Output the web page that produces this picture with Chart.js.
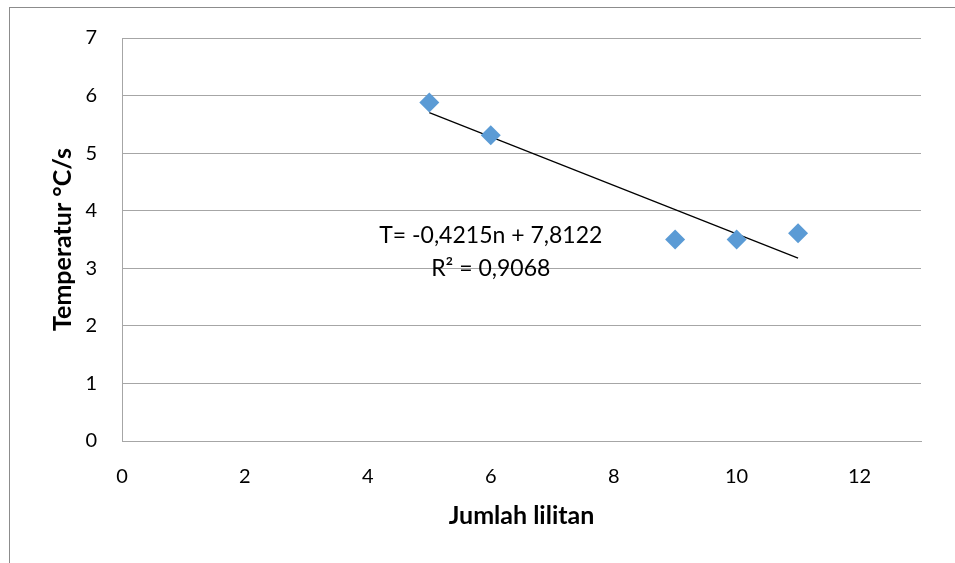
<!DOCTYPE html>
<html>
<head>
<meta charset="utf-8">
<script src="https://cdn.jsdelivr.net/npm/chart.js@4.4.1/dist/chart.umd.min.js"></script>
<style>
  html, body { margin: 0; padding: 0; background: #fff; }
  #wrap { position: relative; width: 955px; height: 563px; overflow: hidden; }
  #frame { position: absolute; left: 9px; top: 7px; width: 1000px; height: 600px; border: 1px solid #8c8c8c; box-sizing: border-box; }
  canvas { position: absolute; left: 0; top: 0; }
</style>
</head>
<body>
<div id="wrap">
  <div id="frame"></div>
  <canvas id="c" width="955" height="563"></canvas>
</div>
<script>
const windings = [5, 6, 9, 10, 11];
const temperatureRate = [5.88, 5.31, 3.50, 3.50, 3.61];
const trendSlope = -0.4215;
const trendIntercept = 7.8122;
const trendRange = [5, 11];
const equationLines = ['T= -0,4215n + 7,8122', 'R² = 0,9068'];
const xTitle = 'Jumlah lilitan';
const yTitle = 'Temperatur °C/s';

const trendPoints = trendRange.map(n => ({ x: n, y: trendSlope * n + trendIntercept }));
const points = windings.map((n, i) => ({ x: n, y: temperatureRate[i] }));

const FONT = 'Lato, "Open Sans", sans-serif';

const equationPlugin = {
  id: 'equation',
  afterDatasetsDraw(chart) {
    const { ctx, scales } = chart;
    const cx = scales.x.getPixelForValue(6.0);
    const y1 = scales.y.getPixelForValue(3.56);
    const y2 = scales.y.getPixelForValue(3.0);
    ctx.save();
    ctx.fillStyle = '#000';
    ctx.font = '23px ' + FONT;
    ctx.textAlign = 'center';
    ctx.textBaseline = 'middle';
    ctx.fillText(equationLines[0], cx, y1);
    ctx.fillText(equationLines[1], cx, y2);
    ctx.restore();
  }
};

new Chart(document.getElementById('c'), {
  type: 'scatter',
  data: {
    datasets: [
      {
        data: trendPoints,
        showLine: true,
        borderColor: '#000',
        borderWidth: 1.2,
        pointRadius: 0,
        fill: false,
        order: 2
      },
      {
        data: points,
        pointStyle: 'rectRot',
        pointRadius: 10,
        pointHoverRadius: 10,
        backgroundColor: '#5B9BD5',
        borderColor: '#5B9BD5',
        borderWidth: 0,
        order: 1
      }
    ]
  },
  options: {
    responsive: false,
    animation: false,
    events: [],
    layout: { padding: { left: 0, top: 38, right: 34, bottom: 0 } },
    plugins: { legend: { display: false }, tooltip: { enabled: false } },
    scales: {
      x: {
        type: 'linear',
        min: 0, max: 13,
        afterBuildTicks(scale) {
          scale.ticks = [0, 2, 4, 6, 8, 10, 12].map(v => ({ value: v }));
        },
        afterFit(scale) { scale.height = 122; },
        grid: { display: false, drawTicks: false },
        border: { display: true, color: '#a6a6a6', width: 1 },
        ticks: { color: '#000', padding: 24, font: { family: FONT, size: 20 } },
        title: {
          display: true, text: xTitle, color: '#000',
          font: { family: FONT, size: 25, weight: 'bold' },
          padding: { top: 32, bottom: 32 }
        }
      },
      y: {
        type: 'linear',
        min: 0, max: 7,
        ticks: { stepSize: 1, color: '#000', padding: 25, font: { family: FONT, size: 20 } },
        afterFit(scale) { scale.width = 122; },
        grid: { color: '#a6a6a6', lineWidth: 1, drawTicks: false },
        border: { display: true, color: '#a6a6a6', width: 1 },
        title: {
          display: true, text: yTitle, color: '#000',
          font: { family: FONT, size: 25, weight: 'bold' },
          padding: { top: 48, bottom: 48 }
        }
      }
    }
  },
  plugins: [equationPlugin]
});
</script>
</body>
</html>
